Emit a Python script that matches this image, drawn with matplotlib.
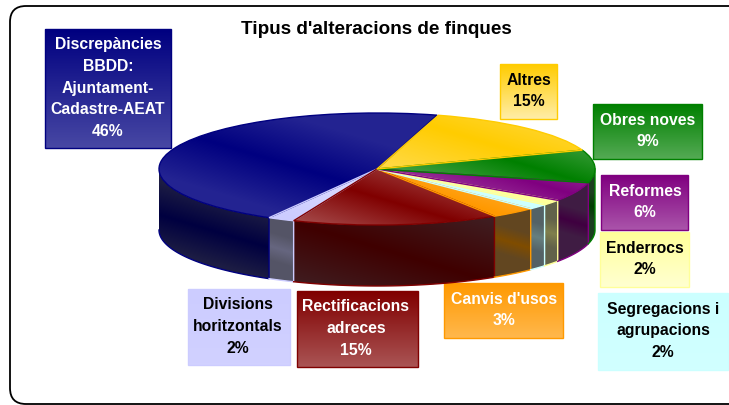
import numpy as np
import matplotlib
matplotlib.use("Agg")
import matplotlib.pyplot as plt
from matplotlib.patches import Wedge, Polygon, FancyBboxPatch, Rectangle

# ---- data ----
labels = ["Discrepàncies\nBBDD:\nAjuntament-\nCadastre-AEAT", "Divisions\nhoritzontals",
          "Rectificacions\nadreces", "Canvis d'usos", "Segregacions i\nagrupacions",
          "Enderrocs", "Reformes", "Obres noves", "Altres"]
values = [46.2, 2.0, 15.3, 3.4, 1.5, 1.6, 5.5, 9.4, 15.0]
colors = ["#000080", "#ccccff", "#800000", "#ff9900", "#ccffff",
          "#ffff99", "#800080", "#008000", "#ffcc00"]
title = "Tipus d'alteracions de finques"

# ---- layout (pixels) ----
W, H = 729, 405
cx, cy, a, b, depth = 377, 169, 218, 56, 61
start_angle = 74  # elliptical angle at which the first slice starts
boxes = [(45, 29, 171, 148), (188, 289, 290, 365), (297, 291, 418, 367), (444, 283, 563, 338),
         (598, 293, 728, 370), (600, 232, 689, 287), (601, 175, 688, 230), (593, 104, 702, 159),
         (500, 64, 557, 119)]
box_end = [0.28, 0.1, 0.33, 0.3, 0.1, 0.55, 0.33, 0.33, 0.65]
text_colors = ["white", "black", "white", "white", "black", "black", "white", "white", "black"]
text_x = [108, 238, 356, 504, 663, 645, 645, 648, 529]
top_bands = [(200, 138), (280, 215), (343, 187), (470, 205), (500, 195),
             (500, 190), (500, 172), (510, 160), (462, 135)]
top_mix = [0.14, 0.25, 0.3, 0.3, 0.25, 0.25, 0.3, 0.3, 0.25]

plt.rcParams["font.family"] = ["Liberation Sans", "DejaVu Sans"]
fig = plt.figure(figsize=(W / 100, H / 100), dpi=100, facecolor="white")

# overlay axes in pixel units: frame, title, labels
ov = fig.add_axes([0, 0, 1, 1], zorder=1)
ov.set_xlim(0, W); ov.set_ylim(H, 0); ov.axis("off")
ov.add_patch(FancyBboxPatch((25, 21), 720, 368, boxstyle="round,pad=15,rounding_size=16",
                            fc="white", ec="black", lw=1.3))
ov.text(376, 30, title, ha="center", va="center", fontsize=13.6, fontweight="bold", color="black")

def rgb(c):
    return np.array(matplotlib.colors.to_rgb(c))

for lab, v, col, bx, e, tc, tx in zip(labels, values, colors, boxes, box_end, text_colors, text_x):
    x0, y0, x1, y1 = bx
    base = rgb(col)
    t = np.linspace(0, 1, 64)[:, None, None]
    img = base[None, None, :] * (1 - t * e) + t * e
    ov.imshow(img, extent=(x0, x1, y1, y0), aspect="auto", zorder=2, interpolation="bilinear")
    ov.add_patch(Rectangle((x0, y0), x1 - x0, y1 - y0, fc="none", ec=col, lw=1, zorder=3))
    ov.text(tx, (y0 + y1) / 2 - 0.5, f"{lab}\n{v:.0f}%", ha="center", va="center", ma="center",
            fontsize=11.3, fontweight="bold", color=tc, linespacing=1.56, zorder=4)
ov.set_xlim(0, W); ov.set_ylim(H, 0)

# pie axes: unit circle squashed by the axes box
ax = fig.add_axes([(cx - a) / W, (H - cy - b - depth) / H, 2 * a / W, (2 * b + depth) / H], zorder=2)
d = depth / b
ax.set_xlim(-1, 1); ax.set_ylim(-1 - d, 1); ax.axis("off")

# pixel grid of the pie axes
nx, ny = 2 * a, 2 * b + depth
px, py = np.meshgrid(np.linspace(cx - a, cx + a, nx), np.linspace(cy - b, cy + b + depth, ny))
ext = (-1, 1, -1 - d, 1)

starts = start_angle + np.cumsum([0] + values[:-1]) * 3.6
ends = starts + np.array(values) * 3.6

# sides first
for v, col, t0, t1 in zip(values, colors, starts, ends):
    for k in (0, -360, 360):
        a0, a1 = max(t0 + k, 180), min(t1 + k, 360)
        if a1 > a0:
            th = np.radians(np.linspace(a0, a1, 120))
            xs, ys = np.cos(th), np.sin(th)
            poly = np.r_[np.c_[xs, ys], np.c_[xs[::-1], ys[::-1] - d]]
            base = rgb(col)
            dark, grey = base * 0.5, np.array([0.25, 0.25, 0.28])
            mx = cx + a * xs.mean(); my = cy - b * ys.mean() + depth / 2
            sc = max(14, a * (xs.max() - xs.min()) * 0.3)
            s = np.clip(np.abs((py - my) - 0.3 * (px - mx)) / sc, 0, 1)[..., None]
            img = dark * (1 - 0.45 * s) + grey * 0.45 * s
            p = Polygon(poly, closed=True, fc="none", ec="none", transform=ax.transData)
            ax.add_patch(p)
            im = ax.imshow(img, extent=ext, aspect="auto", zorder=2, origin="upper")
            im.set_clip_path(p)
            ax.plot(np.r_[xs[0], xs, xs[-1]], np.r_[ys[0] - d, ys - d, ys[-1]], color=col,
                    lw=1.0, zorder=3, clip_on=False)

# top faces
for v, col, t0, t1, (bx0, by0), mix in zip(values, colors, starts, ends, top_bands, top_mix):
    base = rgb(col)
    s = np.clip(np.abs((py - by0) - 0.3 * (px - bx0)) / 50, 0, 1)[..., None]
    img = base * (1 - mix * s) + mix * s
    w = Wedge((0, 0), 1, t0, t1, fc="none", ec="none", transform=ax.transData)
    ax.add_patch(w)
    im = ax.imshow(img, extent=ext, aspect="auto", zorder=4, origin="upper")
    im.set_clip_path(w)
    ax.add_patch(Wedge((0, 0), 1, t0, t1, fc="none", ec=col, lw=1.0, zorder=5, clip_on=False))

ax.set_xlim(-1, 1); ax.set_ylim(-1 - d, 1)
fig.savefig("out.png", dpi=100, facecolor="white")
